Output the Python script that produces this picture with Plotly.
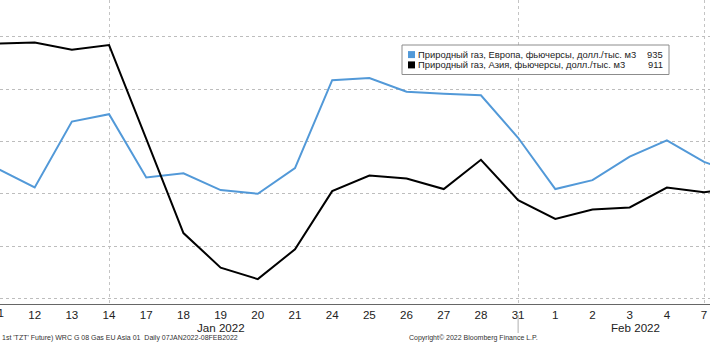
import plotly.graph_objects as go

# Trading days, 11 Jan - 8 Feb 2022
days = ["11", "12", "13", "14", "17", "18", "19", "20", "21", "24", "25",
        "26", "27", "28", "31", "1", "2", "3", "4", "7", "8"]

# Natural gas futures, USD per thousand m3
europe = [948, 912, 1038, 1052, 931, 939, 907, 900, 949, 1117, 1121,
          1095, 1091, 1088, 1007, 909, 926, 971, 1002, 961, 935]
asia = [1187, 1189, 1175, 1184, 1005, 825, 759, 737, 794, 905, 935,
        929, 909, 965, 888, 852, 870, 874, 912, 903, 911]

europe_name = "Природный газ, Европа, фьючерсы, долл./тыс. м3"
asia_name = "Природный газ, Азия, фьючерсы, долл./тыс. м3"
blue = "#5299d8"

grid_days = ["14", "31", "7"]
month_labels = [("Jan 2022", 6.0), ("Feb 2022", 17.15)]

x = list(range(len(days)))
W, H = 710, 343
plot_h = 304  # plot area height in px (top margin 0)
x_lo, x_hi = 0.067, 19.16
tick_size = 11.6


def py(p):
    """pixel row -> paper y"""
    return 1 - p / plot_h


def px(p):
    return p / W


def xpaper(i):
    return (i - x_lo) / (x_hi - x_lo)


fig = go.Figure()
fig.add_trace(go.Scatter(x=x, y=europe, mode="lines", name=europe_name,
                         line=dict(color=blue, width=2), showlegend=False))
fig.add_trace(go.Scatter(x=x, y=asia, mode="lines", name=asia_name,
                         line=dict(color="#000000", width=2), showlegend=False))

grid_idx = [days.index(d) for d in grid_days]

fig.update_layout(
    width=W, height=H,
    margin=dict(l=0, r=0, t=0, b=H - plot_h),
    paper_bgcolor="white", plot_bgcolor="white",
    font=dict(family="Liberation Sans, Arial, sans-serif", color="#222"),
    xaxis=dict(
        range=[x_lo, x_hi],
        tickmode="array", tickvals=x[:-1], ticktext=days[:-1],
        showgrid=False, zeroline=False,
        showline=True, linecolor="#666", linewidth=1,
        ticks="",
        tickfont=dict(size=tick_size, color="#222"),
        minor=dict(tickmode="array", tickvals=grid_idx, showgrid=True,
                   gridcolor="#c4c4c4", gridwidth=1, griddash="dot", ticks=""),
    ),
    yaxis=dict(
        range=[689.5, 1270.1],
        tickmode="linear", tick0=700, dtick=100,
        showticklabels=False, ticks="",
        showgrid=True, gridcolor="#bdbdbd", gridwidth=1, griddash="dot",
        zeroline=False, showline=False,
    ),
)

# first day label sits just past the left edge of the range
fig.add_annotation(x=xpaper(0), y=py(312.5), xref="paper", yref="paper",
                   text=days[0], showarrow=False, xanchor="center",
                   yanchor="middle", font=dict(size=tick_size, color="#222"))

# month labels under the day ticks
for text, pos in month_labels:
    fig.add_annotation(x=pos, y=py(327.5), xref="x", yref="paper", text=text,
                       showarrow=False, xanchor="center", yanchor="middle",
                       font=dict(size=tick_size, color="#222"))

# month separator tick
sep = days.index("31")
fig.add_shape(type="line", xref="x", yref="paper", x0=sep, x1=sep,
              y0=py(315), y1=py(333), line=dict(color="#b0b0b0", width=1))

# legend box
fig.add_shape(type="rect", xref="paper", yref="paper",
              x0=px(402), x1=px(669), y0=py(74.5), y1=py(45),
              line=dict(color="#8c8c8c", width=1), fillcolor="white")
legend_rows = [(europe_name, europe[-1], blue, 54.6), (asia_name, asia[-1], "#000", 64.9)]
for name, last, col, row in legend_rows:
    fig.add_shape(type="rect", xref="paper", yref="paper",
                  x0=px(408), x1=px(415), y0=py(row + 3.5), y1=py(row - 3.5),
                  line=dict(width=0), fillcolor=col)
    fig.add_annotation(x=px(415.5), y=py(row), xref="paper", yref="paper",
                       text=name,
                       showarrow=False, xanchor="left", yanchor="middle",
                       font=dict(size=9.4, color="#222"))
    fig.add_annotation(x=px(665), y=py(row), xref="paper", yref="paper",
                       text=str(last), showarrow=False,
                       xanchor="right", yanchor="middle",
                       font=dict(size=9.4, color="#222"))

# footer
fig.add_annotation(x=0, y=py(338), xref="paper", yref="paper",
                   text="1st 'TZT' Future) WRC G 08 Gas EU Asia 01  Daily 07JAN2022-08FEB2022",
                   showarrow=False, xanchor="left", yanchor="middle",
                   font=dict(size=7, color="#333"))
fig.add_annotation(x=px(473), y=py(338), xref="paper", yref="paper",
                   text="Copyright© 2022 Bloomberg Finance L.P.",
                   showarrow=False, xanchor="center", yanchor="middle",
                   font=dict(size=7, color="#333"))

fig.write_html("out.html")
